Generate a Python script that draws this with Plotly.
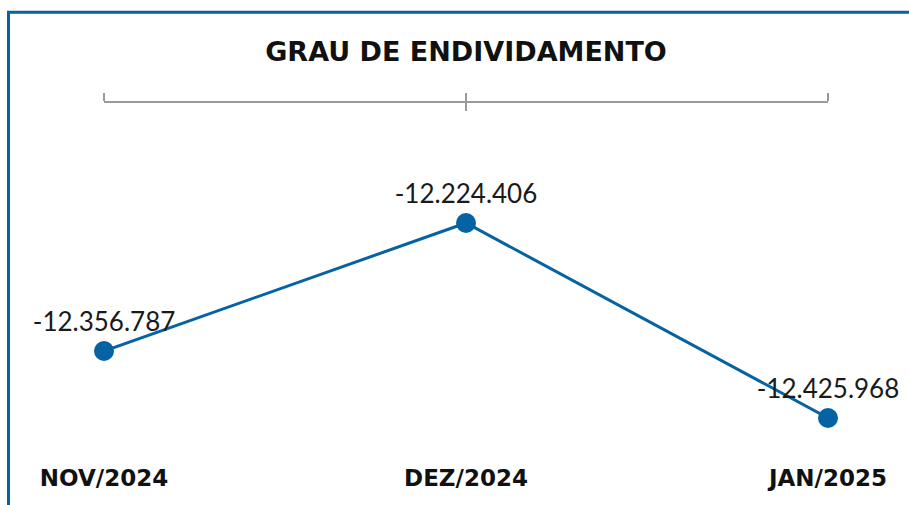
import plotly.graph_objects as go

categories = ["NOV/2024", "DEZ/2024", "JAN/2025"]
values = [-12356787, -12224406, -12425968]
value_labels = ["-12.356.787", "-12.224.406", "-12.425.968"]
title_text = "GRAU DE ENDIVIDAMENTO"

BLUE = "#0563A4"
GRAY = "#9a9a9a"

fig = go.Figure()
fig.add_trace(go.Scatter(
    x=categories, y=values, mode="lines+markers+text",
    text=value_labels, textposition="top center",
    textfont=dict(family="Lato", size=26, color="#1a1a1a"),
    line=dict(color=BLUE, width=3),
    marker=dict(color=BLUE, size=20),
    cliponaxis=False, hoverinfo="skip", showlegend=False,
))
for ax in ["x2", "x3"]:
    fig.add_trace(go.Scatter(
        x=categories, y=values, xaxis=ax, mode="lines",
        line=dict(width=0), opacity=0, hoverinfo="skip", showlegend=False,
    ))

W, H = 909, 505
ml, mr, mt, mb = 104, 81, 103, 43
y_lo, y_hi = -12471508, -12100338

axis_common = dict(type="category", categoryorder="array", categoryarray=categories,
                   range=[0, 2], showgrid=False, zeroline=False, fixedrange=True)

fig.update_layout(
    width=W, height=H,
    margin=dict(l=ml, r=mr, t=mt, b=mb, pad=0),
    paper_bgcolor="white", plot_bgcolor="white",
    title=dict(text="<b>" + title_text + "</b>", x=0.5, xref="paper", xanchor="center",
               y=1 - 52 / H, yanchor="middle", yref="container",
               font=dict(family="DejaVu Sans", size=27, color="#111111")),
    xaxis=dict(**axis_common, showline=False, ticks="",
               tickfont=dict(family="DejaVu Sans", size=23, color="#111111"),
               tickprefix="<b>", ticksuffix="</b>"),
    xaxis2=dict(**axis_common, overlaying="x", side="top", showline=True, linecolor=GRAY,
                linewidth=2, ticks="outside", ticklen=8, tickwidth=2, tickcolor=GRAY,
                showticklabels=False),
    xaxis3=dict(**axis_common, overlaying="x", side="top", showline=False,
                ticks="inside", ticklen=8, tickwidth=2, tickcolor=GRAY,
                showticklabels=False),
    yaxis=dict(range=[y_lo, y_hi], visible=False, fixedrange=True),
    shapes=[dict(type="rect", xref="paper", yref="paper",
                 x0=(8.5 - ml) / (W - ml - mr), x1=1.6,
                 y0=-0.6, y1=1 + (mt - 12.3) / (H - mt - mb),
                 line=dict(color=BLUE, width=3), layer="below")],
)

fig.write_html("out.html", config={"displayModeBar": False},
               post_script="document.body.style.margin='0px';")
